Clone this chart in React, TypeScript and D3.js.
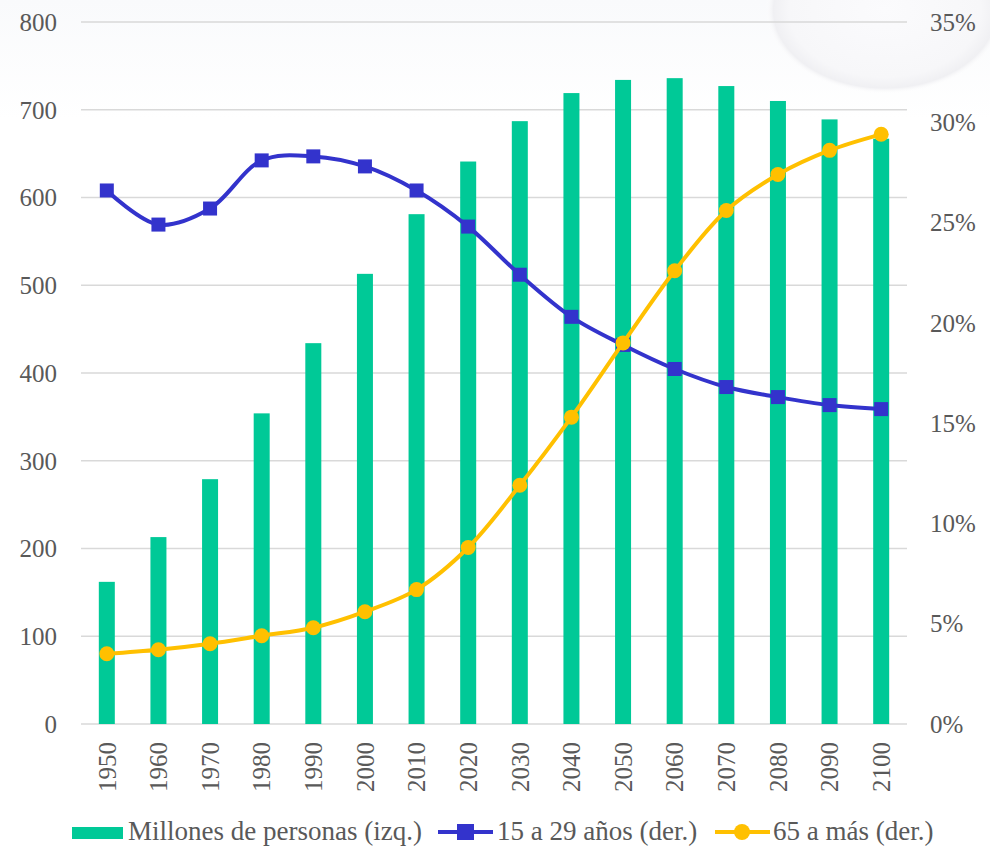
import { useEffect, useRef } from 'react';
import * as d3 from 'd3';

// ---- data ----
const years = ['1950', '1960', '1970', '1980', '1990', '2000', '2010', '2020',
  '2030', '2040', '2050', '2060', '2070', '2080', '2090', '2100'];
const millones = [162, 213, 279, 354, 434, 513, 581, 641, 687, 719, 734, 736, 727, 710, 689, 667];
const jovenes = [26.6, 24.9, 25.7, 28.1, 28.3, 27.8, 26.6, 24.8, 22.4, 20.3, 18.9, 17.7, 16.8, 16.3, 15.9, 15.7];
const mayores = [3.5, 3.7, 4.0, 4.4, 4.8, 5.6, 6.7, 8.8, 11.9, 15.3, 19.0, 22.6, 25.6, 27.4, 28.6, 29.4];
const leftTicks = [0, 100, 200, 300, 400, 500, 600, 700, 800];
const rightTicks = [0, 5, 10, 15, 20, 25, 30, 35];

const App = () => {
  const svgRef = useRef<SVGSVGElement>(null);

  useEffect(() => {
    const width = 990;
    const height = 846;
    const margin = { top: 22, right: 83, bottom: 122, left: 81 };
    const font = '"Liberation Serif", "Times New Roman", serif';
    const textColor = '#595959';
    const fs = 25;

    const svg = d3.select(svgRef.current);
    svg.selectAll('*').remove();
    svg.attr('width', width).attr('height', height);

    svg.append('rect').attr('width', width).attr('height', height).attr('fill', '#ffffff');

    // faint background, top band + ring in the corner
    const defs = svg.append('defs');
    const band = defs.append('linearGradient').attr('id', 'band')
      .attr('x1', 0).attr('y1', 0).attr('x2', 0).attr('y2', 1);
    band.append('stop').attr('offset', '0%').attr('stop-color', '#f9fafc');
    band.append('stop').attr('offset', '100%').attr('stop-color', '#ffffff');
    svg.append('rect').attr('width', width).attr('height', 120).attr('fill', 'url(#band)');

    const grad = defs.append('radialGradient').attr('id', 'blob');
    grad.append('stop').attr('offset', '0%').attr('stop-color', '#fbfbfd');
    grad.append('stop').attr('offset', '80%').attr('stop-color', '#f7f7f9');
    grad.append('stop').attr('offset', '93%').attr('stop-color', '#f0f0f3');
    grad.append('stop').attr('offset', '100%').attr('stop-color', '#ffffff').attr('stop-opacity', 0);
    svg.append('ellipse')
      .attr('cx', 885).attr('cy', 10).attr('rx', 120).attr('ry', 84)
      .attr('fill', 'url(#blob)');

    const x = d3.scaleBand()
      .domain(years)
      .range([margin.left, width - margin.right])
      .paddingInner(0.69)
      .paddingOuter(0.345);

    const yL = d3.scaleLinear().domain([0, 800]).range([height - margin.bottom, margin.top]);
    const yR = d3.scaleLinear().domain([0, 35]).range([height - margin.bottom, margin.top]);

    // gridlines
    svg.append('g')
      .selectAll('line')
      .data(leftTicks)
      .join('line')
      .attr('x1', margin.left)
      .attr('x2', width - margin.right)
      .attr('y1', d => yL(d))
      .attr('y2', d => yL(d))
      .attr('stroke', '#d9d9d9')
      .attr('stroke-width', 1.3);

    // left axis labels
    svg.append('g')
      .selectAll('text')
      .data(leftTicks)
      .join('text')
      .attr('x', 57)
      .attr('y', d => yL(d))
      .attr('dy', '0.35em')
      .attr('text-anchor', 'end')
      .attr('font-family', font)
      .attr('font-size', fs)
      .attr('fill', textColor)
      .text(d => d);

    // right axis labels
    svg.append('g')
      .selectAll('text')
      .data(rightTicks)
      .join('text')
      .attr('x', 930)
      .attr('y', d => yR(d))
      .attr('dy', '0.35em')
      .attr('text-anchor', 'start')
      .attr('font-family', font)
      .attr('font-size', fs)
      .attr('fill', textColor)
      .text(d => d + '%');

    // bars
    svg.append('g')
      .selectAll('rect')
      .data(millones)
      .join('rect')
      .attr('x', (_, i) => x(years[i])!)
      .attr('y', d => yL(d))
      .attr('width', x.bandwidth())
      .attr('height', d => yL(0) - yL(d))
      .attr('fill', '#00c997');

    // x labels
    const cx = (i: number) => x(years[i])! + x.bandwidth() / 2;
    svg.append('g')
      .selectAll('text')
      .data(years)
      .join('text')
      .attr('transform', (_, i) => `translate(${cx(i)},742) rotate(-90)`)
      .attr('dy', '0.35em')
      .attr('text-anchor', 'end')
      .attr('font-family', font)
      .attr('font-size', fs)
      .attr('fill', textColor)
      .text(d => d);

    const line = d3.line<number>()
      .x((_, i) => cx(i))
      .y(d => yR(d))
      .curve(d3.curveCatmullRom.alpha(0.5));

    // blue line
    svg.append('path')
      .datum(jovenes)
      .attr('d', line)
      .attr('fill', 'none')
      .attr('stroke', '#3333cc')
      .attr('stroke-width', 4);

    svg.append('g')
      .selectAll('rect')
      .data(jovenes)
      .join('rect')
      .attr('x', (_, i) => cx(i) - 7)
      .attr('y', d => yR(d) - 7)
      .attr('width', 14)
      .attr('height', 14)
      .attr('fill', '#3333cc');

    // yellow line
    svg.append('path')
      .datum(mayores)
      .attr('d', line)
      .attr('fill', 'none')
      .attr('stroke', '#ffc000')
      .attr('stroke-width', 4);

    svg.append('g')
      .selectAll('circle')
      .data(mayores)
      .join('circle')
      .attr('cx', (_, i) => cx(i))
      .attr('cy', d => yR(d))
      .attr('r', 7.5)
      .attr('fill', '#ffc000');

    // legend
    const leg = svg.append('g');
    const ly = 832;
    const base = 840;
    const lfs = 27;
    leg.append('rect').attr('x', 72).attr('y', 827).attr('width', 51).attr('height', 12).attr('fill', '#00c997');
    leg.append('text').attr('x', 128).attr('y', base)
      .attr('font-family', font).attr('font-size', lfs).attr('fill', textColor)
      .text('Millones de personas (izq.)');

    leg.append('line').attr('x1', 438).attr('x2', 493).attr('y1', ly).attr('y2', ly)
      .attr('stroke', '#3333cc').attr('stroke-width', 4);
    leg.append('rect').attr('x', 457).attr('y', ly - 8).attr('width', 17).attr('height', 16).attr('fill', '#3333cc');
    leg.append('text').attr('x', 497).attr('y', base)
      .attr('font-family', font).attr('font-size', lfs).attr('fill', textColor)
      .text('15 a 29 años (der.)');

    leg.append('line').attr('x1', 715).attr('x2', 770).attr('y1', ly).attr('y2', ly)
      .attr('stroke', '#ffc000').attr('stroke-width', 4);
    leg.append('circle').attr('cx', 742).attr('cy', ly).attr('r', 8).attr('fill', '#ffc000');
    leg.append('text').attr('x', 773).attr('y', base)
      .attr('font-family', font).attr('font-size', lfs).attr('fill', textColor)
      .text('65 a más (der.)');
  }, []);

  return (
    <div style={{ position: 'absolute', left: 0, top: 0, width: 990, height: 846, overflow: 'hidden' }}>
      <svg ref={svgRef} style={{ display: 'block' }}></svg>
    </div>
  );
};

export default App;
